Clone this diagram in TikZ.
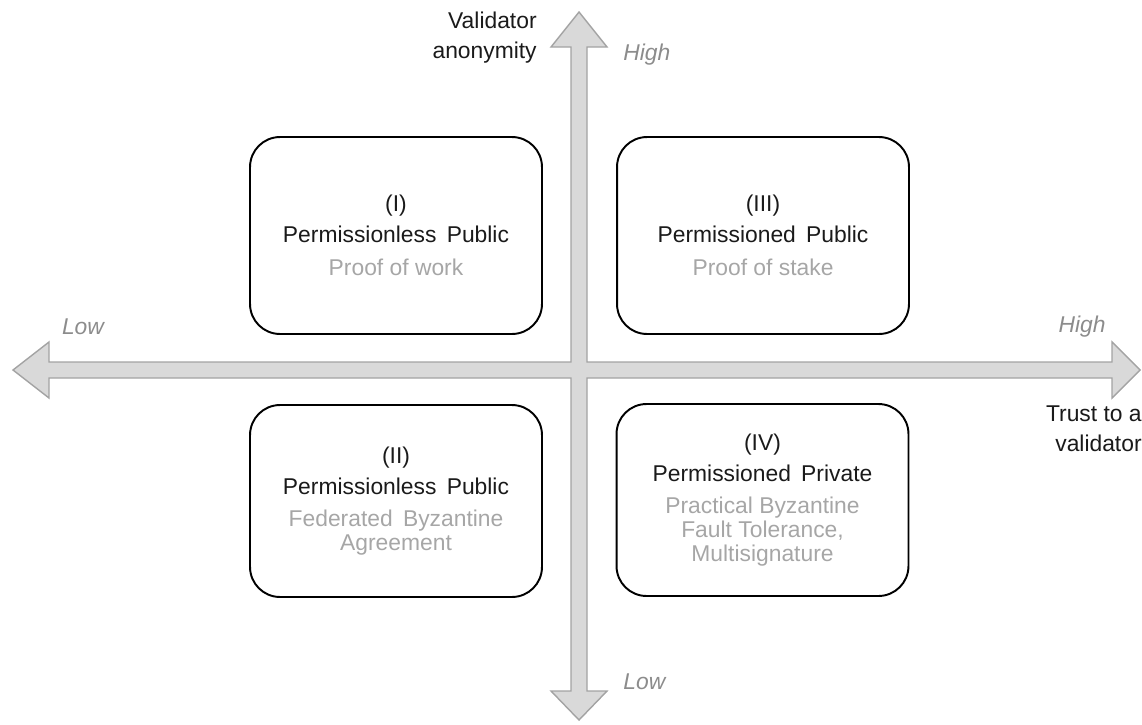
\documentclass[tikz,border=0pt]{standalone}
\usepackage{fontspec}
\setmainfont{Liberation Sans}
\usetikzlibrary{positioning}
\definecolor{axisfill}{HTML}{D9D9D9}
\definecolor{axisline}{HTML}{A3A3A3}
\definecolor{softgray}{HTML}{A6A6A6}
\definecolor{levelgray}{HTML}{8C8C8C}
\definecolor{ink}{HTML}{1A1A1A}

\begin{document}
\begin{tikzpicture}[x=0.02cm, y=-0.02cm,
    quadrant/.style={draw=black, line width=1.1pt, rounded corners=0.6cm,
        minimum width=5.84cm, align=center, text=ink,
        font=\fontsize{13pt}{17.6pt}\selectfont},
    level/.style={text=levelgray, font=\fontsize{13pt}{15pt}\selectfont\itshape, inner sep=0pt},
    axislabel/.style={text=ink, align=right, font=\fontsize{13pt}{17pt}\selectfont, inner sep=0pt}]
    \useasboundingbox (0,0) rectangle (1142,724);
    % axes as one block cross
    \coordinate (o) at (579,370);
    \coordinate (vtop) at (579,12);
    \coordinate (vbot) at (579,720);
    \coordinate (hleft) at (13,370);
    \coordinate (hright) at (1140,370);
    \draw[fill=axisfill, draw=axisline, line width=0.8pt, line join=miter]
        (vtop) -- (607,47) -- (587,47) -- (587,362) -- (1112,362) -- (1112,342)
        -- (hright) -- (1112,398) -- (1112,378) -- (587,378) -- (587,691) -- (607,691)
        -- (vbot) -- (551,691) -- (571,691) -- (571,378) -- (49,378) -- (49,398)
        -- (hleft) -- (49,342) -- (49,362) -- (571,362) -- (571,47) -- (551,47) -- cycle;
    % axis names and ends
    \node[axislabel, anchor=east] (vname) at (537,38) {Validator\\anonymity};
    \node[axislabel, anchor=east] (hname) at (1142,429) {Trust to a\\validator};
    \node[level, anchor=west] (vhigh) at (623,55) {High};
    \node[level, anchor=west] (vlow) at (623,682) {Low};
    \node[level] (hlow) at (83,327) {Low};
    \node[level] (hhigh) at (1082,327) {High};
    % quadrants
    \node[quadrant, minimum height=3.94cm] (q1) at (396,235.5)
        {(I)\\Permissionless\hspace{0.45em}Public\\[1pt]
         \color{softgray}Proof of work};
    \node[quadrant, minimum height=3.94cm] (q3) at (763,235.5)
        {(III)\\Permissioned\hspace{0.45em}Public\\[1pt]
         \color{softgray}Proof of stake};
    \node[quadrant, minimum height=3.84cm] (q2) at (396,501)
        {(II)\\Permissionless\hspace{0.45em}Public\\[1pt]
         \color{softgray}Federated\hspace{0.45em}Byzantine\\[-4pt]
         \color{softgray}Agreement};
    \node[quadrant, minimum height=3.84cm] (q4) at (762.5,500)
        {(IV)\\Permissioned\hspace{0.45em}Private\\[1pt]
         \color{softgray}Practical Byzantine\\[-4pt]
         \color{softgray}Fault Tolerance,\\[-4pt]
         \color{softgray}Multisignature};
\end{tikzpicture}
\end{document}
